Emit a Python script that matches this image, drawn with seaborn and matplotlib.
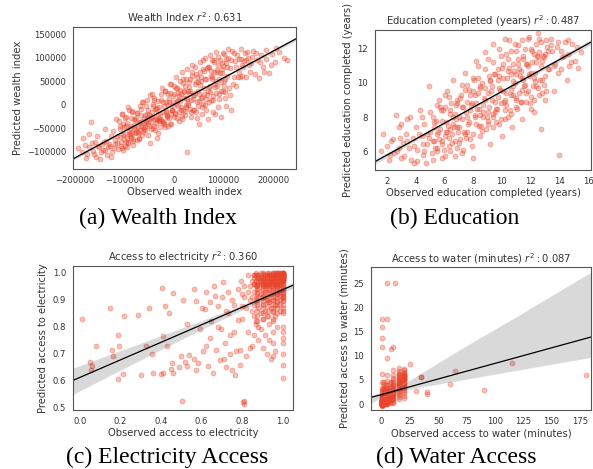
import numpy as np
import matplotlib
matplotlib.use("Agg")
import matplotlib.pyplot as plt
import seaborn as sns

# ---------------- data ----------------
r2_values = [0.631, 0.487, 0.360, 0.087]

wealth_obs = [
    -193e3, -186e3, -180e3, -176e3, -171e3, -167e3, -163e3, -160e3, -157e3, -154e3, -151e3, -148e3,
    -146e3, -142e3, -140e3, -137e3, -135e3, -132e3, -130e3, -127e3, -125e3, -122e3, -120e3, -118e3,
    -115e3, -113e3, -110e3, -108e3, -106e3, -104e3, -102e3, -100e3, -98e3, -96e3, -94e3, -92e3, -90e3,
    -88e3, -87e3, -85e3, -83e3, -81e3, -80e3, -78e3, -76e3, -74e3, -73e3, -71e3, -70e3, -68e3, -66e3,
    -65e3, -63e3, -61e3, -60e3,
    -58e3, -57e3, -55e3, -53e3, -52e3, -50e3, -48e3, -47e3, -45e3, -44e3, -42e3, -40e3, -39e3, -37e3,
    -35e3, -33e3, -32e3, -30e3,
    -28e3, -27e3, -25e3, -23e3, -22e3, -20e3, -18e3, -17e3, -15e3, -13e3, -12e3, -10e3, -8e3, -7e3,
    -5e3, -3e3, -2e3, 0,
    2e3, 3e3, 5e3, 7e3, 8e3, 10e3, 12e3, 14e3, 15e3, 17e3, 19e3, 20e3, 22e3, 24e3, 25e3, 26e3, 28e3, 30e3,
    32e3, 34e3, 35e3, 37e3, 39e3, 40e3, 42e3, 44e3, 45e3, 47e3, 49e3, 50e3, 52e3, 54e3, 55e3, 57e3, 58e3, 60e3,
    62e3, 63e3, 65e3, 67e3, 68e3, 70e3, 72e3, 73e3, 75e3, 77e3, 78e3, 80e3, 82e3, 84e3, 85e3, 87e3, 89e3, 90e3,
    92e3, 94e3, 96e3, 98e3, 100e3, 102e3, 104e3, 106e3, 108e3, 110e3, 113e3, 115e3, 117e3, 120e3, 122e3,
    125e3, 127e3, 130e3,
    133e3, 135e3, 138e3, 140e3, 143e3, 146e3, 150e3, 153e3, 156e3, 160e3, 163e3, 167e3, 171e3, 175e3,
    180e3, 185e3, 186e3, 191e3, 197e3, 204e3, 206e3, 211e3, 221e3, 228e3,
    -184e3, -178e3, -172e3, -166e3, -161e3, -155e3, -149e3, -144e3, -139e3, -134e3, -128e3, -123e3,
    -119e3, -116e3, -112e3, -109e3, -105e3, -103e3, -101e3, -97e3, -95e3, -93e3, -89e3, -86e3, -84e3,
    -82e3, -79e3, -77e3,
    -75e3, -72e3, -69e3, -67e3, -64e3, -62e3, -59e3, -56e3, -54e3, -51e3, -49e3, -46e3, -43e3, -41e3,
    -38e3, -36e3, -34e3, -31e3,
    -29e3, -26e3, -24e3, -21e3, -19e3, -16e3, -14e3, -11e3, -9e3, -6e3, -4e3, -1e3, 1e3, 4e3, 6e3, 9e3,
    11e3, 13e3,
    16e3, 18e3, 21e3, 23e3, 27e3, 29e3, 31e3, 33e3, 36e3, 38e3, 41e3, 43e3, 46e3, 48e3, 51e3, 53e3, 56e3,
    59e3, 61e3, 64e3, 66e3, 69e3, 71e3, 74e3,
    76e3, 79e3, 81e3, 83e3, 86e3, 88e3, 91e3, 93e3, 95e3, 97e3, 99e3, 101e3, 103e3, 105e3, 107e3, 109e3,
    112e3, 114e3, 118e3, 121e3,
    124e3, 128e3, 131e3, 134e3, 137e3, 142e3, 145e3, 148e3, 152e3, 158e3, 165e3, 174e3, 182e3, 195e3,
    # dense core of the cloud
    -110e3, -106e3, -101e3, -97e3, -93e3, -88e3, -84e3, -80e3, -75e3, -71e3, -67e3, -62e3, -58e3, -54e3,
    -49e3, -45e3, -41e3, -36e3, -32e3, -28e3, -23e3, -19e3, -15e3, -10e3, -6e3, -2e3, 3e3, 7e3, 11e3,
    16e3, 20e3, 24e3, 29e3, 33e3, 37e3, 42e3, 46e3, 50e3, 55e3, 59e3, 63e3, 68e3, 72e3, 76e3, 81e3,
    85e3, 89e3, 94e3, 98e3, 103e3,
    -108e3, -104e3, -99e3, -95e3, -91e3, -86e3, -82e3, -78e3, -73e3, -69e3, -65e3, -60e3, -56e3, -52e3,
    -47e3, -43e3, -39e3, -34e3, -30e3, -26e3, -21e3, -17e3, -13e3, -8e3, -4e3, 0, 5e3, 9e3, 13e3,
    18e3, 22e3, 26e3, 31e3, 35e3, 39e3, 44e3, 48e3, 52e3, 57e3, 61e3, 65e3, 70e3, 74e3, 78e3, 83e3,
    87e3, 91e3, 96e3, 100e3, 105e3,
]
wealth_pred = [
    -92e3, -99e3, -85e3, -104e3, -90e3, -36e3, -97e3, -78e3, -110e3, -88e3, -90e3, -101e3,
    -83e3, -78e3, -95e3, -76e3, -106e3, -84e3, -88e3, -67e3, -99e3, -92e3, -84e3, -30e3,
    -66e3, -93e3, -52e3, -78e3, -92e3, -40e3, -61e3, -87e3, -25e3, -70e3, -78e3, -55e3, -10e3,
    -60e3, -45e3, -62e3, -85e3, -30e3, -42e3, -50e3, -58e3, -18e3, -58e3, -38e3, -70e3, -36e3, -44e3,
    5e3, -48e3, -28e3, -52e3,
    -54e3, -36e3, -30e3, -12e3, -40e3, -45e3, -80e3, -25e3, -16e3, 22e3, 2e3, -44e3, -8e3, -8e3,
    -32e3, -20e3, -60e3, -30e3,
    -20e3, 10e3, -35e3, -38e3, -15e3, -2e3, 30e3, -15e3, -22e3, -45e3, 0, 12e3, 45e3, -20e3,
    -12e3, 5e3, 18e3, -25e3,
    -18e3, 60e3, 35e3, 10e3, 25e3, -35e3, 8e3, 22e3, 70e3, -10e3, 15e3, 28e3, 40e3, -5e3, 0, -100e3, 30e3, 25e3,
    55e3, 10e3, -25e3, 85e3, 20e3, -10e3, 45e3, -15e3, 65e3, 5e3, 30e3, -40e3, 90e3, 15e3, 50e3, -20e3, 75e3, 35e3,
    0, 100e3, 55e3, 20e3, -30e3, 80e3, 40e3, 105e3, 10e3, 60e3, -15e3, 90e3, 45e3, 25e3, 112e3, 70e3, -5e3, 55e3,
    95e3, 30e3, 75e3, 110e3, 50e3, 15e3, 88e3, 62e3, 100e3, 35e3, 78e3, -10e3, 115e3, 58e3, 92e3,
    40e3, 105e3, 70e3,
    60e3, 98e3, 85e3, 80e3, 110e3, 95e3, 100e3, 70e3, 88e3, 115e3, 65e3, 95e3, 56e3, 105e3,
    80e3, 98e3, 116e3, 67e3, 108e3, 90e3, 120e3, 112e3, 100e3, 95e3,
    -70e3, -112e3, -62e3, -80e3, -104e3, -66e3, -115e3, -95e3, -52e3, -90e3, -110e3, -55e3,
    -75e3, -80e3, -35e3, -68e3, -20e3, -96e3, -48e3, -78e3, -38e3, -80e3, -66e3, -70e3, -15e3,
    -72e3, -60e3, -28e3,
    -75e3, -46e3, -54e3, -8e3, -34e3, -58e3, -22e3, -34e3, 10e3, -22e3, -30e3, -52e3, -50e3, 15e3,
    -30e3, -38e3, -70e3, -5e3,
    -32e3, -30e3, 35e3, -40e3, -48e3, 5e3, -26e3, -28e3, 25e3, -40e3, -10e3, 40e3, -20e3, 2e3, 8e3, -15e3,
    50e3, -5e3,
    -30e3, 55e3, -22e3, 15e3, 75e3, 0, 38e3, -8e3, 62e3, -10e3, 20e3, 80e3, -28e3, 48e3, 8e3, 70e3, -5e3,
    95e3, 22e3, -12e3, 78e3, 30e3, 5e3, 62e3,
    95e3, 18e3, 70e3, -20e3, 40e3, 102e3, 12e3, 68e3, -25e3, 88e3, 30e3, 108e3, 55e3, -2e3, 80e3, 118e3,
    20e3, 95e3, 45e3, 110e3,
    80e3, 58e3, 98e3, 118e3, 62e3, 92e3, 60e3, 112e3, 85e3, 102e3, 110e3, 90e3, 70e3, 85e3,
    # dense core of the cloud
    -45e3, -20e3, -72e3, -45e3, -5e3, -50e3, -14e3, -52e3, -17e3, -73e3, -21e3, 5e3, -47e3, -20e3,
    20e3, -25e3, 11e3, -27e3, 8e3, -48e3, 5e3, 30e3, -23e3, 5e3, 45e3, 0, 36e3, -2e3, 32e3,
    -23e3, 30e3, 55e3, 3e3, 30e3, 69e3, 25e3, 60e3, 23e3, 58e3, 2e3, 54e3, 80e3, 27e3, 55e3, 95e3,
    50e3, 85e3, 48e3, 82e3, 27e3,
    -87e3, -63e3, -27e3, -90e3, -62e3, -27e3, -77e3, -32e3, -59e3, -3e3, -63e3, -38e3, -2e3, -65e3,
    -37e3, -2e3, -53e3, -7e3, -34e3, 22e3, -37e3, -13e3, 22e3, -40e3, -12e3, 23e3, -27e3, 18e3, -10e3,
    47e3, -13e3, 12e3, 48e3, -15e3, 12e3, 48e3, -3e3, 43e3, 16e3, 72e3, 12e3, 37e3, 72e3, 10e3, 38e3,
    73e3, 22e3, 68e3, 40e3, 97e3,
]

edu_obs = [
    1.6, 1.7, 2.0, 2.2, 2.4, 2.6, 2.7, 2.8, 3.0, 3.1, 3.3, 3.5, 3.6, 3.8, 3.9,
    4.0, 4.1, 4.3, 4.4, 4.5, 4.6, 4.8, 4.9, 5.0, 5.1, 5.2, 5.3, 5.4, 5.5, 5.6, 5.7, 5.8, 5.9, 6.0,
    6.1, 6.2, 6.3, 6.4, 6.5, 6.6, 6.7, 6.8, 6.9, 7.0, 7.1, 7.2, 7.3, 7.4, 7.5, 7.6, 7.7, 7.8, 7.9, 8.0,
    8.1, 8.2, 8.3, 8.4, 8.5, 8.6, 8.7, 8.8, 8.9, 9.0, 9.1, 9.2, 9.3, 9.4, 9.5, 9.6, 9.7, 9.8, 9.9, 10.0,
    10.1, 10.2, 10.3, 10.4, 10.5, 10.6, 10.7, 10.8, 10.9, 11.0, 11.1, 11.2, 11.3, 11.4, 11.5, 11.6, 11.7,
    11.8, 11.9, 12.0,
    12.1, 12.2, 12.3, 12.4, 12.5, 12.6, 12.7, 12.8, 12.9, 13.0, 13.1, 13.3, 13.5, 13.6, 13.8, 13.9, 14.0,
    14.2, 14.4, 14.5, 14.7, 14.9, 15.1, 15.3, 15.5,
    7.2, 7.6, 8.0, 8.3, 8.5, 8.8, 9.0, 9.2, 9.4, 9.6, 9.8, 10.0, 10.2, 10.4, 10.6, 10.8, 11.0, 11.2, 11.4,
    11.6, 11.8, 12.0, 12.2, 12.4, 12.6, 12.8, 13.0, 13.2, 13.4, 13.7,
    6.4, 6.8, 7.0, 7.4, 7.8, 8.2, 8.6, 9.0, 9.4, 9.8, 10.2, 10.6, 11.0, 11.4, 11.8, 12.2,
    5.5, 5.8, 6.0, 6.3, 6.6, 6.9, 4.8, 5.2, 4.5, 3.4, 2.9, 12.5, 14.1, 14.6,
    2.1, 2.3, 2.5, 2.8, 3.0, 3.2, 3.4, 3.7, 3.9, 4.1, 4.2, 4.4, 4.6, 4.7, 4.9, 5.0,
    5.2, 5.3, 5.5, 5.7, 5.8, 6.0, 6.1, 6.3, 6.4, 6.6, 6.7, 6.9, 7.0, 7.2, 7.3, 7.5, 7.6, 7.7, 7.9, 8.0,
    8.1, 8.2, 8.4, 8.5, 8.7, 8.8, 9.0, 9.1, 9.3, 9.4, 9.5, 9.7, 9.8, 9.9, 10.1, 10.2, 10.3, 10.5, 10.6,
    10.8, 10.9, 11.0,
    11.1, 11.3, 11.4, 11.5, 11.7, 11.9, 12.0, 12.1, 12.3, 12.5, 12.7, 12.8, 13.0, 13.2, 13.4, 13.6, 13.9,
    14.1, 14.3, 14.6, 14.8, 15.2,
    # dense core of the cloud
    5.25, 5.45, 5.65, 5.85, 6.05, 6.25, 6.45, 6.65, 6.85, 7.05, 7.25, 7.45, 7.65, 7.85, 8.05, 8.25,
    8.45, 8.65, 8.85, 9.05, 9.25, 9.45, 9.65, 9.85, 10.05, 10.25, 10.45, 10.65, 10.85, 11.05, 11.25,
    11.45, 11.65, 11.85, 12.05, 12.25, 12.45, 12.65, 12.85, 13.05,
    5.35, 5.55, 5.75, 5.95, 6.15, 6.35, 6.55, 6.75, 6.95, 7.15, 7.35, 7.55, 7.75, 7.95, 8.15, 8.35,
    8.55, 8.75, 8.95, 9.15, 9.35, 9.55, 9.75, 9.95, 10.15, 10.35, 10.55, 10.75, 10.95, 11.15, 11.35,
    11.55, 11.75, 11.95, 12.15, 12.35, 12.55, 12.75, 12.95, 13.15,
]
edu_pred = [
    6.0, 7.0, 6.3, 5.8, 6.7, 8.1, 6.0, 7.4, 5.6, 6.5, 7.0, 6.2, 8.0, 6.8, 5.3,
    7.4, 6.1, 8.4, 6.9, 5.8, 7.6, 6.4, 9.8, 7.1, 5.9, 8.0, 6.6, 7.8, 6.2, 9.0, 7.3, 5.6, 8.4, 6.9,
    7.7, 9.5, 6.3, 8.2, 7.0, 10.2, 5.7, 8.7, 7.4, 6.5, 9.1, 7.9, 6.1, 10.6, 8.3, 7.1, 9.6, 6.7, 8.8, 5.6,
    9.3, 7.6, 11.0, 8.5, 6.9, 10.0, 8.0, 9.0, 7.3, 11.4, 8.6, 6.4, 9.8, 8.2, 10.5, 7.7, 9.2, 12.0, 8.8, 6.9,
    10.3, 9.0, 11.7, 8.0, 12.5, 9.6, 7.4, 11.1, 10.0, 8.6, 12.2, 9.4, 10.7, 7.9, 11.6, 9.9, 8.9,
    12.6, 10.4, 9.2,
    11.2, 8.3, 10.6, 12.3, 9.7, 11.8, 7.3, 10.2, 11.5, 9.0, 12.5, 10.8, 11.9, 9.5, 12.1, 10.6, 5.8,
    11.5, 12.4, 10.2, 11.0, 12.3, 11.3, 10.9, 11.8,
    9.9, 8.9, 9.5, 10.3, 8.1, 10.8, 9.4, 10.1, 11.2, 8.5, 9.7, 10.9, 8.4, 11.4, 10.5, 9.3, 11.9, 10.8, 9.6,
    12.0, 11.0, 10.6, 11.7, 9.8, 12.6, 11.3, 10.4, 11.9, 12.2, 11.1,
    7.3, 7.9, 8.0, 7.0, 8.4, 8.8, 7.2, 8.3, 7.4, 10.4, 7.9, 8.2, 9.1, 10.3, 9.5, 9.0,
    7.0, 6.4, 8.6, 6.8, 7.6, 6.2, 7.0, 6.6, 6.4, 6.6, 6.8, 12.9, 11.9, 11.7,
    5.5, 6.6, 5.9, 6.2, 7.6, 5.7, 7.9, 5.5, 6.3, 5.4, 7.0, 8.0, 6.0, 5.3, 6.8, 8.3,
    5.5, 7.4, 6.0, 8.6, 6.6, 5.7, 7.1, 9.2, 6.0, 8.0, 6.6, 9.0, 7.4, 5.9, 8.6, 6.8, 9.9, 7.7, 6.3, 10.3,
    8.1, 11.3, 7.5, 9.7, 8.7, 11.8, 7.8, 10.4, 9.0, 12.3, 8.3, 10.8, 7.6, 11.6, 9.5, 12.6, 8.7, 10.9, 11.9,
    9.8, 12.3, 10.5,
    11.4, 8.9, 12.5, 10.2, 11.1, 12.7, 8.5, 11.9, 10.1, 11.5, 12.4, 9.4, 11.7, 10.8, 12.6, 11.0, 12.4,
    10.8, 11.6, 12.5, 11.2, 12.1,
    # dense core of the cloud
    7.7, 8.7, 6.7, 7.8, 9.3, 7.5, 8.8, 7.4, 8.8, 6.7, 8.6, 9.6, 7.6, 8.7, 10.2, 8.5,
    9.8, 8.3, 9.7, 7.6, 9.5, 10.5, 8.5, 9.6, 11.1, 9.4, 10.7, 9.3, 10.7, 8.5, 10.4,
    11.4, 9.4, 10.5, 12.0, 10.3, 11.6, 10.2, 11.6, 9.5,
    6.2, 7.1, 8.4, 6.1, 7.1, 8.4, 6.5, 8.2, 7.1, 9.3, 7.1, 8.0, 9.3, 7.0, 8.0, 9.4,
    7.5, 9.1, 8.0, 10.2, 8.0, 8.9, 10.2, 7.9, 8.9, 10.3, 8.4, 10.1, 9.0, 11.1, 8.9,
    9.8, 11.1, 8.8, 9.8, 11.2, 9.3, 11.0, 9.9, 12.1,
]

elec_obs = [
    0.01, 0.05, 0.06, 0.055, 0.08, 0.15, 0.16, 0.165, 0.19, 0.195,
    0.19, 0.215, 0.21, 0.285, 0.30, 0.325, 0.34, 0.355, 0.405, 0.41,
    0.41, 0.42, 0.43, 0.44, 0.46, 0.455, 0.46, 0.51, 0.505, 0.53,
    0.54, 0.56, 0.57, 0.58, 0.59, 0.605, 0.615, 0.62, 0.63, 0.64,
    0.645, 0.655, 0.665, 0.67, 0.68, 0.69, 0.695, 0.705, 0.715, 0.72,
    0.73, 0.74, 0.75, 0.76, 0.765, 0.78, 0.79, 0.795, 0.80, 0.805,
    0.81, 0.81,
    0.36, 0.40, 0.45, 0.49, 0.53, 0.57,
    0.50, 0.52, 0.56, 0.60, 0.62, 0.64, 0.66, 0.68, 0.70, 0.71,
    0.72, 0.73, 0.74, 0.75, 0.76, 0.77, 0.78, 0.79, 0.80, 0.81,
    0.82, 0.83, 0.84, 0.84, 0.85, 0.86, 0.86, 0.87, 0.88, 0.88,
    0.85, 0.85, 0.85, 0.86, 0.86, 0.86, 0.87, 0.87, 0.87, 0.88,
    0.88, 0.88, 0.89, 0.89, 0.89, 0.89, 0.90, 0.90, 0.90, 0.90,
    0.90, 0.90, 0.91, 0.91, 0.91, 0.91, 0.92, 0.92, 0.92, 0.92,
    0.92, 0.93, 0.93, 0.93, 0.93, 0.93, 0.93, 0.94, 0.94, 0.94,
    0.94, 0.94, 0.95, 0.95, 0.95, 0.95, 0.95, 0.95, 0.95, 0.95,
    0.95, 0.95, 0.96, 0.96, 0.96, 0.96, 0.96, 0.96, 0.96, 0.97,
    0.97, 0.97, 0.97, 0.97, 0.97, 0.98, 0.98, 0.98, 0.99, 0.99,
    0.84, 0.83, 0.82, 0.81, 0.80, 0.83, 0.86, 0.88, 0.91, 0.94,
    0.86, 0.87, 0.88, 0.89, 0.90, 0.91, 0.92, 0.93, 0.94, 0.95,
    0.96, 0.97, 0.98, 0.99, 0.87, 0.89, 0.91, 0.93, 0.95, 0.97,
    0.86, 0.88, 0.90, 0.92, 0.94, 0.96, 0.98, 0.87, 0.89, 0.91,
    0.93, 0.95, 0.97, 0.99, 0.88, 0.90, 0.92, 0.94, 0.96, 0.98,
    0.86, 0.87, 0.89, 0.90, 0.92, 0.93, 0.95, 0.96, 0.97, 0.99,
    0.88, 0.91, 0.94, 0.96, 0.97, 0.98, 0.99, 0.95, 0.93, 0.90,
]
elec_pred = [
    0.83, 0.67, 0.655, 0.64, 0.73, 0.87, 0.715, 0.69, 0.77, 0.73,
    0.605, 0.84, 0.625, 0.845, 0.62, 0.73, 0.87, 0.70, 0.945, 0.765,
    0.63, 0.875, 0.73, 0.85, 0.925, 0.665, 0.63, 0.90, 0.525, 0.81,
    0.695, 0.68, 0.895, 0.665, 0.79, 0.71, 0.865, 0.93, 0.655, 0.76,
    0.82, 0.63, 0.915, 0.715, 0.875, 0.675, 0.79, 0.965, 0.74, 0.65,
    0.85, 0.70, 0.90, 0.78, 0.62, 0.825, 0.715, 0.97, 0.875, 0.52,
    0.515, 0.525,
    0.63, 0.625, 0.645, 0.65, 0.655, 0.64,
    0.69, 0.67, 0.94, 0.87, 0.73, 0.89, 0.95, 0.80, 0.91, 0.68,
    0.86, 0.93, 0.77, 0.64, 0.88, 0.71, 0.94, 0.66, 0.83, 0.91,
    0.69, 0.78, 0.95, 0.72, 0.73, 0.88, 0.77, 0.81, 0.80, 0.75,
    0.97, 0.91, 0.86, 0.99, 0.93, 0.84, 0.96, 0.90, 0.82, 0.98,
    0.94, 0.87, 1.00, 0.92, 0.85, 0.79, 0.97, 0.95, 0.91, 0.88,
    0.83, 0.72, 0.99, 0.93, 0.86, 0.77, 0.98, 0.96, 0.90, 0.84,
    0.70, 1.00, 0.97, 0.94, 0.89, 0.81, 0.75, 0.99, 0.95, 0.92,
    0.87, 0.68, 1.00, 0.98, 0.96, 0.93, 0.90, 0.86, 0.82, 0.78,
    0.74, 0.69, 0.99, 0.97, 0.94, 0.91, 0.88, 0.84, 0.71, 1.00,
    0.98, 0.95, 0.92, 0.89, 0.80, 0.99, 0.96, 0.93, 0.98, 0.94,
    0.90, 0.93, 0.87, 0.95, 0.92, 0.99, 0.96, 0.91, 0.96, 0.97,
    0.98, 0.97, 0.99, 0.96, 1.00, 0.98, 0.97, 0.99, 0.96, 1.00,
    0.98, 0.99, 1.00, 0.97, 0.95, 0.99, 0.96, 0.98, 0.97, 0.96,
    0.99, 0.96, 0.98, 1.00, 0.98, 0.96, 0.97, 1.00, 0.97, 0.99,
    0.96, 0.99, 0.98, 1.00, 0.98, 0.96, 0.99, 0.97, 1.00, 0.99,
    0.96, 0.99, 0.98, 0.97, 0.96, 0.99, 0.98, 0.99, 0.97, 0.96,
    0.97, 0.95, 0.98, 0.96, 1.00, 0.98, 0.99, 0.97, 0.99, 0.98,
]
# vertical streaks of predictions at common high observed-access levels
elec_pred_by_obs = {
    0.875: [0.82, 0.84, 0.86, 0.88, 0.89, 0.90, 0.91, 0.92, 0.93, 0.94, 0.95, 0.96, 0.98, 0.99],
    0.90: [0.83, 0.85, 0.87, 0.885, 0.895, 0.905, 0.915, 0.925, 0.935, 0.945, 0.955, 0.965, 0.975, 0.995],
    0.925: [0.84, 0.86, 0.875, 0.89, 0.90, 0.91, 0.92, 0.93, 0.94, 0.95, 0.96, 0.97, 0.98, 0.99],
    0.95: [0.83, 0.855, 0.87, 0.885, 0.90, 0.91, 0.92, 0.935, 0.945, 0.955, 0.965, 0.975, 0.985, 0.995],
    0.97: [0.85, 0.87, 0.88, 0.895, 0.91, 0.92, 0.93, 0.94, 0.95, 0.96, 0.97, 0.98, 0.99, 1.0],
    0.985: [0.86, 0.88, 0.90, 0.915, 0.925, 0.935, 0.945, 0.955, 0.965, 0.975, 0.985, 0.99, 0.995, 1.0],
    1.0: [1.0, 1.0, 0.999, 0.999, 0.998, 0.997, 0.996, 0.996, 0.995, 0.994,
          0.993, 0.993, 0.992, 0.991, 0.99, 0.99, 0.989, 0.988, 0.987, 0.986,
          0.985, 0.984, 0.983, 0.982, 0.981, 0.98, 0.979, 0.978, 0.977, 0.976,
          0.975, 0.974, 0.972, 0.97,
          0.965, 0.96, 0.955, 0.95, 0.945, 0.94, 0.935, 0.93, 0.925, 0.92,
          0.915, 0.91, 0.905, 0.90, 0.895,
          0.88, 0.87, 0.86, 0.85, 0.80, 0.78, 0.76, 0.74, 0.70, 0.66, 0.61],
}
elec_obs_all = elec_obs + [k for k, vals in elec_pred_by_obs.items() for _ in vals]
elec_pred_all = elec_pred + [v for vals in elec_pred_by_obs.values() for v in vals]

# predicted minutes to water, grouped by observed minutes
water_pred_by_obs = {
    0: [-0.4, -0.3, -0.3, -0.2, -0.2, -0.2, -0.1, -0.1, -0.1, -0.1,
        0.0, 0.0, 0.0, 0.0, 0.1, 0.1, 0.1, 0.1, 0.1, 0.2,
        0.2, 0.2, 0.2, 0.2, 0.3, 0.3, 0.3, 0.3, 0.3, 0.4,
        0.4, 0.4, 0.4, 0.4, 0.5, 0.5, 0.5, 0.5, 0.6, 0.6,
        0.6, 0.6, 0.7, 0.7, 0.7, 0.8, 0.8, 0.8, 0.9, 0.9,
        1.0, 1.0, 1.1, 1.2, 1.3, 1.5, 1.7, 2.0, 2.4, 2.9,
        3.3, 4.6, 6.2,
        0.05, 0.15, 0.25, 0.35, 0.45, 0.55, 0.65, 0.75, -0.15, -0.05, 0.12, 0.22, 0.32, 0.42,
        0.52, 0.62, 0.28, 0.38, 0.48, 0.58, 0.18, 0.08, 0.33, 0.44, 0.27, 0.36, 0.57,
        11.8, 13.6, 16.0, 17.7],
    1: [-0.2, 0.0, 0.1, 0.2, 0.3, 0.4, 0.4, 0.5, 0.5, 0.6, 0.6, 0.7, 0.7, 0.8, 0.9, 1.0,
        1.1, 1.2, 1.4, 1.6, 1.8, 2.1, 2.6, 3.2, 4.1],
    2: [0.0, 0.1, 0.2, 0.3, 0.4, 0.5, 0.5, 0.6, 0.7, 0.7, 0.8, 0.9, 1.0, 1.0, 1.1, 1.2,
        1.3, 1.5, 1.6, 1.8, 2.0, 2.3, 2.7, 3.4, 4.5],
    3: [0.1, 0.3, 0.5, 0.6, 0.8, 0.9, 1.0, 1.2, 1.4, 1.6, 1.9, 2.3, 2.8, 3.0, 4.0],
    4: [0.2, 0.5, 0.7, 0.9, 1.1, 1.3, 1.6, 2.0, 2.6, 3.6],
    5: [-0.1, 0.1, 0.2, 0.3, 0.4, 0.5, 0.6, 0.7, 0.8, 0.9,
        1.0, 1.0, 1.1, 1.2, 1.3, 1.4, 1.5, 1.6, 1.7, 1.8,
        1.9, 2.0, 2.1, 2.3, 2.5, 2.7, 3.0, 3.4, 3.9, 4.7, 6.0,
        0.3, 0.6, 0.9, 1.2, 9.6, 17.7, 25.0],
    7: [0.3, 0.7, 1.1, 1.5, 1.9, 2.2, 2.6, 3.0, 3.5, 4.4],
    8: [0.5, 1.0, 1.5, 2.0, 2.4, 2.9, 3.5, 4.6, 11.5],
    10: [0.2, 0.5, 0.8, 1.0, 1.2, 1.4, 1.6, 1.8, 2.0, 2.1,
         2.2, 2.3, 2.4, 2.5, 2.6, 2.7, 2.8, 2.9, 3.0, 3.1,
         3.3, 3.5, 3.7, 3.9, 4.2, 4.5, 4.9, 5.4, 6.0, 7.1, 11.8],
    12: [25.0],
    15: [1.0, 1.4, 1.8, 2.1, 2.4, 2.7, 2.9, 3.1, 3.3, 3.5,
         3.7, 3.9, 4.0, 4.1, 4.2, 4.3, 4.4, 4.5, 4.6, 4.8,
         5.0, 5.2, 5.4, 5.6, 5.8, 6.0, 6.2, 6.5, 6.9, 7.4],
    20: [1.2, 1.7, 2.2, 2.6, 3.0, 3.3, 3.6, 3.9, 4.1, 4.3,
         4.5, 4.7, 4.9, 5.0, 5.1, 5.2, 5.3, 5.4, 5.5, 5.6,
         5.7, 5.8, 5.9, 6.0, 6.1, 6.3, 6.5, 6.7, 7.0, 7.3],
    25: [8.3],
    30: [2.8],
    35: [5.5, 5.7],
    40: [2.5, 2.1],
    60: [4.2],
    65: [6.8],
    90: [3.0],
    115: [8.5],
    180: [6.0],
}
water_obs = [k for k, vals in water_pred_by_obs.items() for _ in vals]
water_pred = [v for vals in water_pred_by_obs.values() for v in vals]

titles = ["Wealth Index", "Education completed (years)",
          "Access to electricity", "Access to water (minutes)"]
xlabels = ["Observed wealth index", "Observed education completed (years)",
           "Observed access to electricity", "Observed access to water (minutes)"]
ylabels = ["Predicted wealth index", "Predicted education completed (years)",
           "Predicted access to electricity", "Predicted access to water (minutes)"]
captions = ["(a) Wealth Index", "(b) Education", "(c) Electricity Access", "(d) Water Access"]

# ---------------- style ----------------
sns.set_theme(style="white")
plt.rcParams["font.family"] = ["DejaVu Sans"]
plt.rcParams["mathtext.fontset"] = "dejavusans"

POINT_COLOR = "#e8452c"
TEXT_COLOR = "#333333"

fig = plt.figure(figsize=(5.93, 4.69), dpi=100)


def panel(rect, x, y, title, r2, xlabel, ylabel, xlim, ylim, xticks, yticks, ci):
    ax = fig.add_axes(rect)
    ax.set_xlim(xlim)
    ax.set_ylim(ylim)
    sns.regplot(x=np.asarray(x, float), y=np.asarray(y, float), ax=ax,
                ci=ci, n_boot=1000, seed=3, truncate=False,
                scatter_kws=dict(s=13, alpha=0.35, color=POINT_COLOR,
                                 edgecolors=POINT_COLOR, linewidths=0.6),
                line_kws=dict(color="black", lw=0.9))
    ax.set_xlim(xlim)
    ax.set_ylim(ylim)
    ax.set_xticks(xticks)
    ax.set_yticks(yticks)
    ax.tick_params(length=0, labelsize=6.1, colors=TEXT_COLOR, pad=5)
    ax.set_title(f"{title} $r^2: {r2:.3f}$", fontsize=7.2, color=TEXT_COLOR, pad=3.5)
    ax.set_xlabel(xlabel, fontsize=7.2, color=TEXT_COLOR, labelpad=1.5)
    ax.set_ylabel(ylabel, fontsize=7.2, color=TEXT_COLOR, labelpad=3)
    for sp in ax.spines.values():
        sp.set_color("#555555")
        sp.set_linewidth(0.8)
    return ax


panel([0.1231, 0.6397, 0.3761, 0.3028], wealth_obs, wealth_pred, titles[0], r2_values[0],
      xlabels[0], ylabels[0], (-204000, 246000), (-136000, 165000),
      [-200000, -100000, 0, 100000, 200000],
      [-100000, -50000, 0, 50000, 100000, 150000], 68)

panel([0.6324, 0.6375, 0.3642, 0.2985], edu_obs, edu_pred, titles[1], r2_values[1],
      xlabels[1], ylabels[1], (1.16, 16.2), (4.9, 13.1),
      [2, 4, 6, 8, 10, 12, 14, 16], [6, 8, 10, 12], 68)

panel([0.1231, 0.1258, 0.3710, 0.3070], elec_obs_all, elec_pred_all, titles[2], r2_values[2],
      xlabels[2], ylabels[2], (-0.034, 1.05), (0.4915, 1.025),
      [0.0, 0.2, 0.4, 0.6, 0.8, 1.0], [0.5, 0.6, 0.7, 0.8, 0.9, 1.0], 95)

panel([0.6256, 0.1258, 0.3710, 0.3049], water_obs, water_pred, titles[3], r2_values[3],
      xlabels[3], ylabels[3], (-9.4, 184.7), (-1.24, 28.4),
      [0, 25, 50, 75, 100, 125, 150, 175], [0, 5, 10, 15, 20, 25], 95)

cap_pos = [(0.2664, 0.5352), (0.7673, 0.5352), (0.2816, 0.0245), (0.7690, 0.0245)]
for (cx, cy), cap in zip(cap_pos, captions):
    fig.text(cx, cy, cap, family=["Liberation Serif", "DejaVu Serif"], fontsize=17,
             ha="center", va="center", color="black")

fig.savefig("out.png", dpi=100)
